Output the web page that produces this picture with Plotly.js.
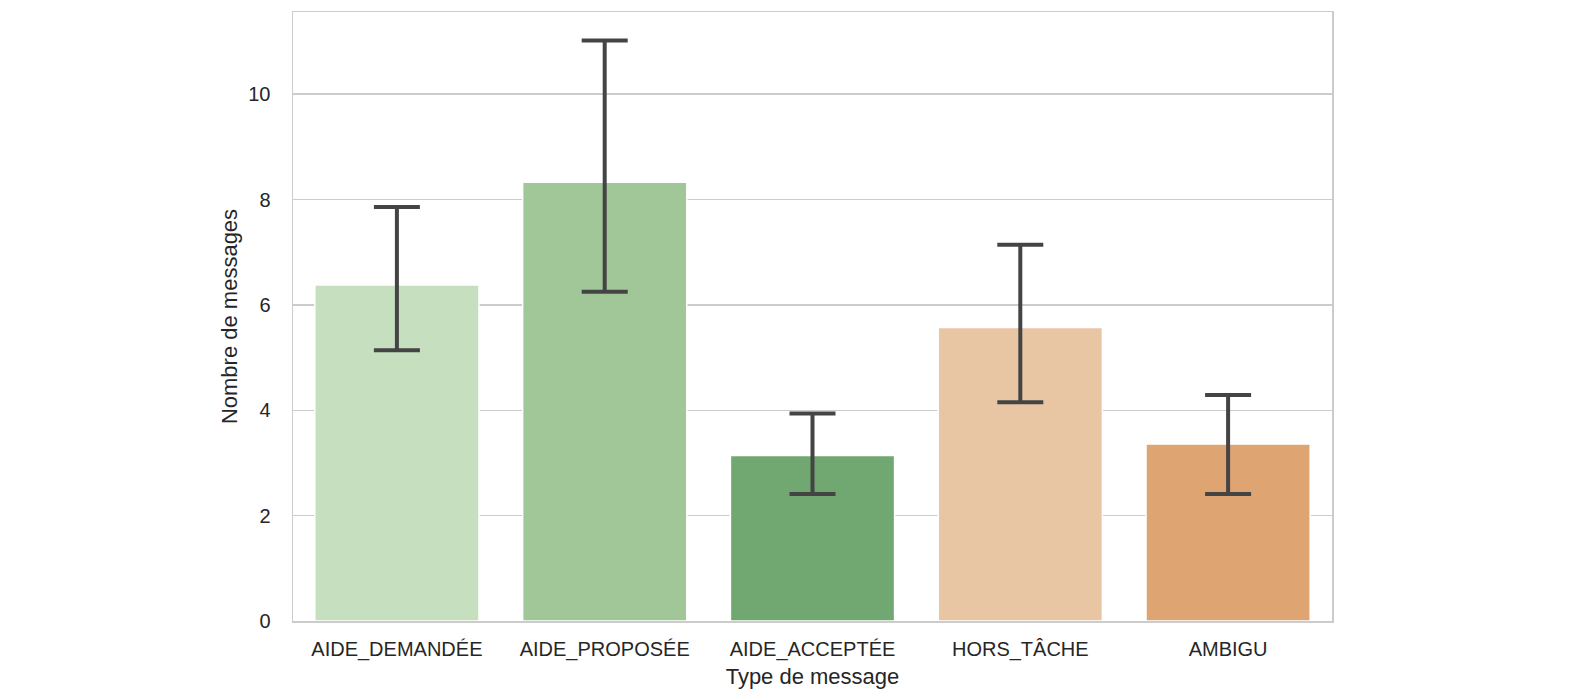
<!DOCTYPE html>
<html>
<head>
<meta charset="utf-8">
<script src="https://cdn.plot.ly/plotly-3.0.1.min.js"></script>
<style>html,body{margin:0;padding:0;background:#fff;overflow:hidden;}#chart{width:1594px;height:698px;}</style>
</head>
<body>
<div id="chart"></div>
<script>
const categories = ["AIDE_DEMANDÉE", "AIDE_PROPOSÉE", "AIDE_ACCEPTÉE", "HORS_TÂCHE", "AMBIGU"];
const means = [6.38, 8.33, 3.14, 5.57, 3.36];
const ciHigh = [7.86, 11.02, 3.94, 7.14, 4.29];
const ciLow = [5.14, 6.25, 2.41, 4.15, 2.41];
const colors = ["#c6dfbf", "#a1c799", "#71a871", "#e8c5a3", "#dea573"];
const yTicks = [0, 2, 4, 6, 8, 10];

const errPlus = means.map((m, i) => ciHigh[i] - m);
const errMinus = means.map((m, i) => m - ciLow[i]);

const trace = {
  type: "bar",
  x: categories,
  y: means,
  marker: { color: colors, line: { color: "#ffffff", width: 1.5 } },
  error_y: {
    type: "data", symmetric: false, array: errPlus, arrayminus: errMinus,
    color: "#444444", thickness: 4, width: 23
  },
  hoverinfo: "x+y"
};

const fam = "Liberation Sans, Arial, sans-serif";

const layout = {
  width: 1594, height: 698,
  margin: { l: 293, r: 262, t: 12, b: 77 },
  paper_bgcolor: "#ffffff", plot_bgcolor: "#ffffff",
  font: { family: fam, size: 20, color: "#262626" },
  bargap: 0.21,
  showlegend: false,
  xaxis: {
    type: "category",
    showline: true, mirror: true, linecolor: "#cccccc", linewidth: 1.5,
    showgrid: false, ticks: "", ticklabelstandoff: 9,
    tickfont: { family: fam, size: 20, color: "#262626" },
    title: { text: "Type de message", font: { family: fam, size: 22, color: "#262626" }, standoff: 9 }
  },
  yaxis: {
    range: [0, 11.56],
    tickvals: yTicks,
    showline: true, mirror: true, linecolor: "#cccccc", linewidth: 1.5,
    showgrid: true, gridcolor: "#cccccc", gridwidth: 1.5,
    zeroline: false, ticks: "", ticklabelstandoff: 17,
    tickfont: { family: fam, size: 20, color: "#262626" },
    title: { text: "Nombre de messages", font: { family: fam, size: 22, color: "#262626" }, standoff: 4 }
  }
};

Plotly.newPlot("chart", [trace], layout, { displayModeBar: false, staticPlot: true });
</script>
</body>
</html>
